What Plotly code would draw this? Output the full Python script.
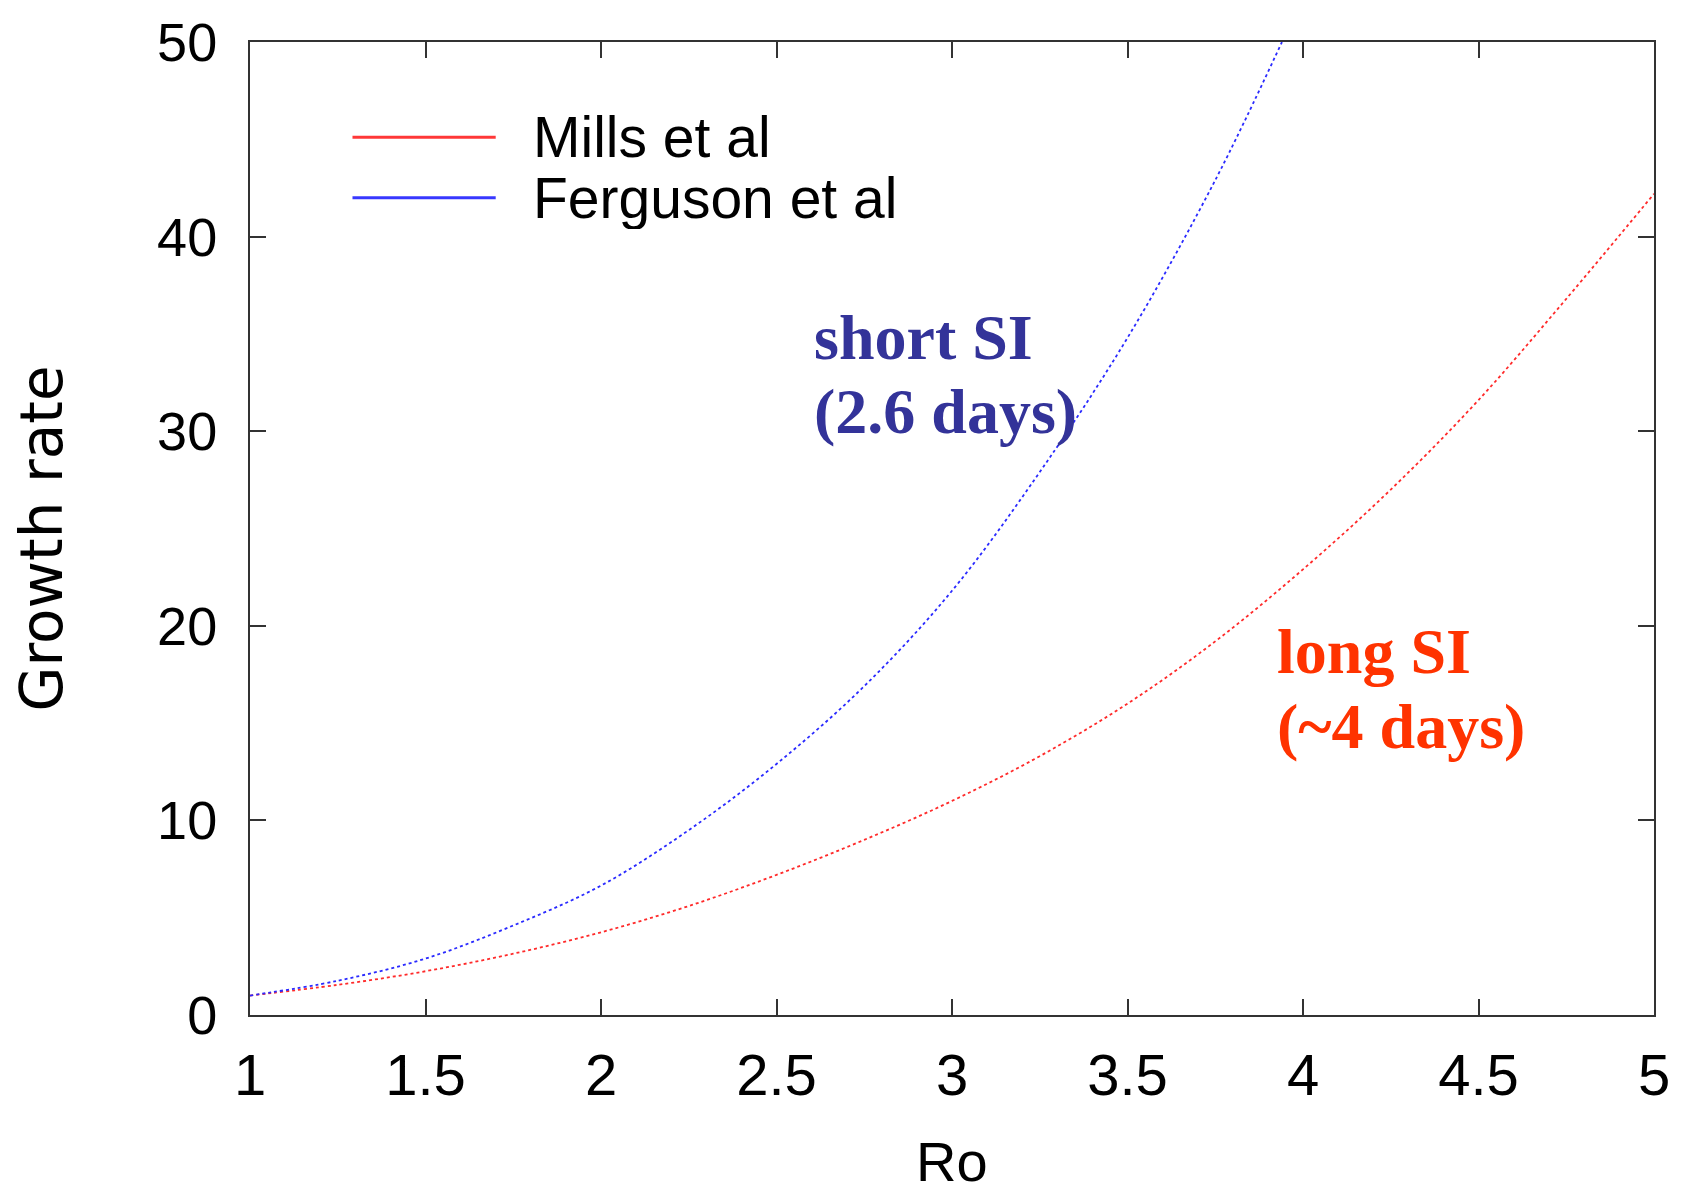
import plotly.graph_objects as go

# Reproduction number values
ro_mills = [1.0, 1.25, 1.5, 1.75, 2.0, 2.25, 2.5, 2.75, 3.0, 3.25, 3.5, 3.75, 4.0, 4.25, 4.5, 4.75, 5.0]
growth_mills = [1.0, 1.55, 2.25, 3.15, 4.25, 5.6, 7.2, 9.0, 11.0, 13.3, 16.0, 19.2, 22.9, 27.0, 31.6, 36.8, 42.2]

ro_ferguson = [1.0, 1.25, 1.5, 1.75, 2.0, 2.25, 2.5, 2.75, 3.0, 3.25, 3.5, 3.75, 3.94]
growth_ferguson = [1.0, 1.76, 2.9, 4.6, 6.65, 9.5, 12.9, 16.9, 21.8, 27.9, 34.8, 42.9, 50.0]

series_names = ["Mills et al", "Ferguson et al"]
series_colors = ["#ff2a2a", "#2a2aff"]
legend_colors = ["#ff3838", "#3838ff"]

x_ticks = [1, 1.5, 2, 2.5, 3, 3.5, 4, 4.5, 5]
x_tick_text = ["1", "1.5", "2", "2.5", "3", "3.5", "4", "4.5", "5"]
y_ticks = [0, 10, 20, 30, 40, 50]

fig = go.Figure()
fig.add_trace(go.Scatter(x=ro_mills, y=growth_mills, mode="lines", name=series_names[0],
                         line=dict(color=series_colors[0], width=1.8, dash="dot", shape="spline")))
fig.add_trace(go.Scatter(x=ro_ferguson, y=growth_ferguson, mode="lines", name=series_names[1],
                         line=dict(color=series_colors[1], width=1.8, dash="dot", shape="spline")))

axis_common = dict(showgrid=False, zeroline=False, showline=True, linecolor="#333333", linewidth=2,
                   mirror="ticks", ticks="inside", ticklen=16, tickwidth=2, tickcolor="#333333")

fig.update_xaxes(range=[1, 5], tickvals=x_ticks, ticktext=x_tick_text,
                 tickfont=dict(family="Liberation Sans, Arial, sans-serif", size=58, color="#000"),
                 ticklabelstandoff=8, **axis_common)
fig.update_yaxes(range=[0, 50], tickvals=y_ticks,
                 tickfont=dict(family="Liberation Sans, Arial, sans-serif", size=54, color="#000"),
                 ticklabelstandoff=20, **axis_common)

annotations = [
    # axis titles
    dict(text="Ro", xref="paper", yref="paper", x=0.5, y=-0.150, xanchor="center", yanchor="middle",
         height=62, showarrow=False,
         font=dict(family="Liberation Sans, Arial, sans-serif", size=56, color="#000")),
    dict(text="Growth rate", xref="paper", yref="paper", x=-0.148, y=0.49, xanchor="center", yanchor="middle",
         textangle=-90, showarrow=False,
         font=dict(family="Comic Sans MS, DejaVu Sans, sans-serif", size=58, color="#000")),
    # curve labels
    dict(text="<b>short SI</b>", x=2.60, y=34.8, xanchor="left", yanchor="middle", showarrow=False,
         font=dict(family="Liberation Serif, Times New Roman, serif", size=64, color="#333399")),
    dict(text="<b>(2.6 days)</b>", x=2.60, y=31.0, xanchor="left", yanchor="middle", showarrow=False,
         font=dict(family="Liberation Serif, Times New Roman, serif", size=64, color="#333399")),
    dict(text="<b>long SI</b>", x=3.92, y=18.7, xanchor="left", yanchor="middle", showarrow=False,
         font=dict(family="Liberation Serif, Times New Roman, serif", size=64, color="#ff3300")),
    dict(text="<b>(~4 days)</b>", x=3.92, y=14.8, xanchor="left", yanchor="middle", showarrow=False,
         font=dict(family="Liberation Serif, Times New Roman, serif", size=64, color="#ff3300")),
]

# key drawn inside the plot area, top left
shapes = []
key_y = [0.902, 0.840]
for name, color, ky in zip(series_names, legend_colors, key_y):
    shapes.append(dict(type="line", xref="paper", yref="paper", x0=0.073, x1=0.175, y0=ky, y1=ky,
                       line=dict(color=color, width=3)))
    annotations.append(dict(text=name, xref="paper", yref="paper", x=0.200, y=ky, xanchor="left",
                            yanchor="middle", height=62, showarrow=False,
                            font=dict(family="Liberation Sans, Arial, sans-serif", size=57, color="#000")))

fig.update_layout(width=1682, height=1192, margin=dict(l=250, r=28, t=36, b=177),
                  paper_bgcolor="white", plot_bgcolor="white", showlegend=False,
                  annotations=annotations, shapes=shapes)

fig.write_html("out.html")
